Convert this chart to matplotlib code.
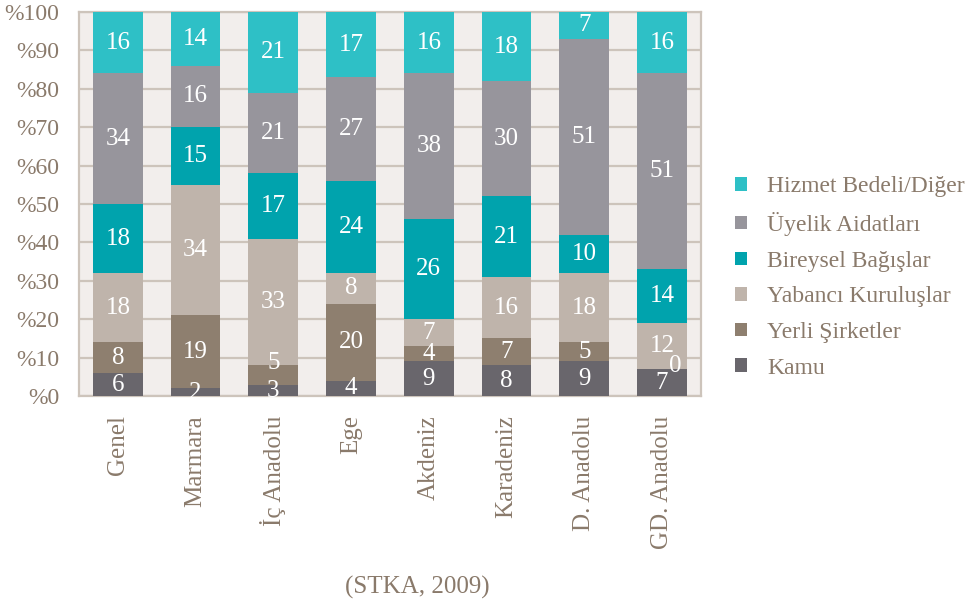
import matplotlib
matplotlib.use("Agg")
import matplotlib.pyplot as plt
from matplotlib.patches import Patch
import numpy as np

categories = ["Genel", "Marmara", "İç Anadolu", "Ege", "Akdeniz", "Karadeniz", "D. Anadolu", "GD. Anadolu"]
series_names = ["Kamu", "Yerli Şirketler", "Yabancı Kuruluşlar", "Bireysel Bağışlar", "Üyelik Aidatları", "Hizmet Bedeli/Diğer"]
kamu = [6, 2, 3, 4, 9, 8, 9, 7]
yerli = [8, 19, 5, 20, 4, 7, 5, 0]
yabanci = [18, 34, 33, 8, 7, 16, 18, 12]
bireysel = [18, 15, 17, 24, 26, 21, 10, 14]
uyelik = [34, 16, 21, 27, 38, 30, 51, 51]
hizmet = [16, 14, 21, 17, 16, 18, 7, 16]
yticks = [0, 10, 20, 30, 40, 50, 60, 70, 80, 90, 100]
ytick_labels = ["%" + str(v) for v in yticks]
source = "(STKA, 2009)"

colors = ["#69666c", "#8e7f6f", "#bfb4ab", "#00a3ad", "#97959c", "#2ec0c6"]
text_color = "#8a7a6b"
grid_color = "#cdc4bb"
bg_color = "#f2eeec"

plt.rcParams['font.family'] = ['Liberation Serif', 'DejaVu Serif']

fig = plt.figure(figsize=(9.74, 6.06), dpi=100)
ax = fig.add_axes([0.0811, 0.3465, 0.6386, 0.6337])
ax.set_facecolor(bg_color)

data = [kamu, yerli, yabanci, bireysel, uyelik, hizmet]
x = np.arange(len(categories))
width = 0.64
bottom = np.zeros(len(categories))
prev_vals = np.full(len(categories), 100.0)
for vals, col, name in zip(data, colors, series_names):
    vals = np.array(vals, dtype=float)
    ax.bar(x, vals, width, bottom=bottom, color=col, zorder=3, label=name)
    for xi, v, b, pv in zip(x, vals, bottom, prev_vals):
        if v == 0:
            ax.text(xi + 0.17, b + 0.8, "0", ha="center", va="center",
                    color="white", fontsize=18, zorder=4)
        else:
            yc = b + v / 2
            if v <= 5 and pv <= 5:
                yc += 3.0
            elif v <= 3:
                yc -= 0.3
            ax.text(xi, yc, str(int(v)), ha="center", va="center",
                    color="white", fontsize=18, zorder=4)
    bottom += vals
    prev_vals = vals

ax.set_xlim(-0.5, len(categories) - 0.5)
ax.set_ylim(0, 100)
ax.set_yticks(yticks)
ax.set_yticklabels(ytick_labels, fontsize=17, color=text_color)
ax.set_xticks(x)
ax.set_xticklabels(categories, rotation=90, fontsize=18, color=text_color, va="top", ha="center")
ax.tick_params(axis="both", length=0)
ax.tick_params(axis="y", pad=14)
ax.tick_params(axis="x", pad=14)
ax.yaxis.grid(True, color=grid_color, linewidth=1.6, zorder=0)
ax.set_axisbelow(True)
for sp in ax.spines.values():
    sp.set_color(grid_color)
    sp.set_linewidth(1.6)

handles = [Patch(facecolor=c, edgecolor="none") for c in colors[::-1]]
leg = fig.legend(handles, series_names[::-1], loc="upper left",
                 bbox_to_anchor=(0.733, 0.744), frameon=False,
                 fontsize=17, handlelength=0.5, handleheight=0.5,
                 handletextpad=0.85, labelspacing=0.62)
for t in leg.get_texts():
    t.set_color(text_color)

fig.text(0.428, 0.03, source, ha="center", va="center", fontsize=18, color=text_color)

fig.savefig("out.png", dpi=100, facecolor="white")
